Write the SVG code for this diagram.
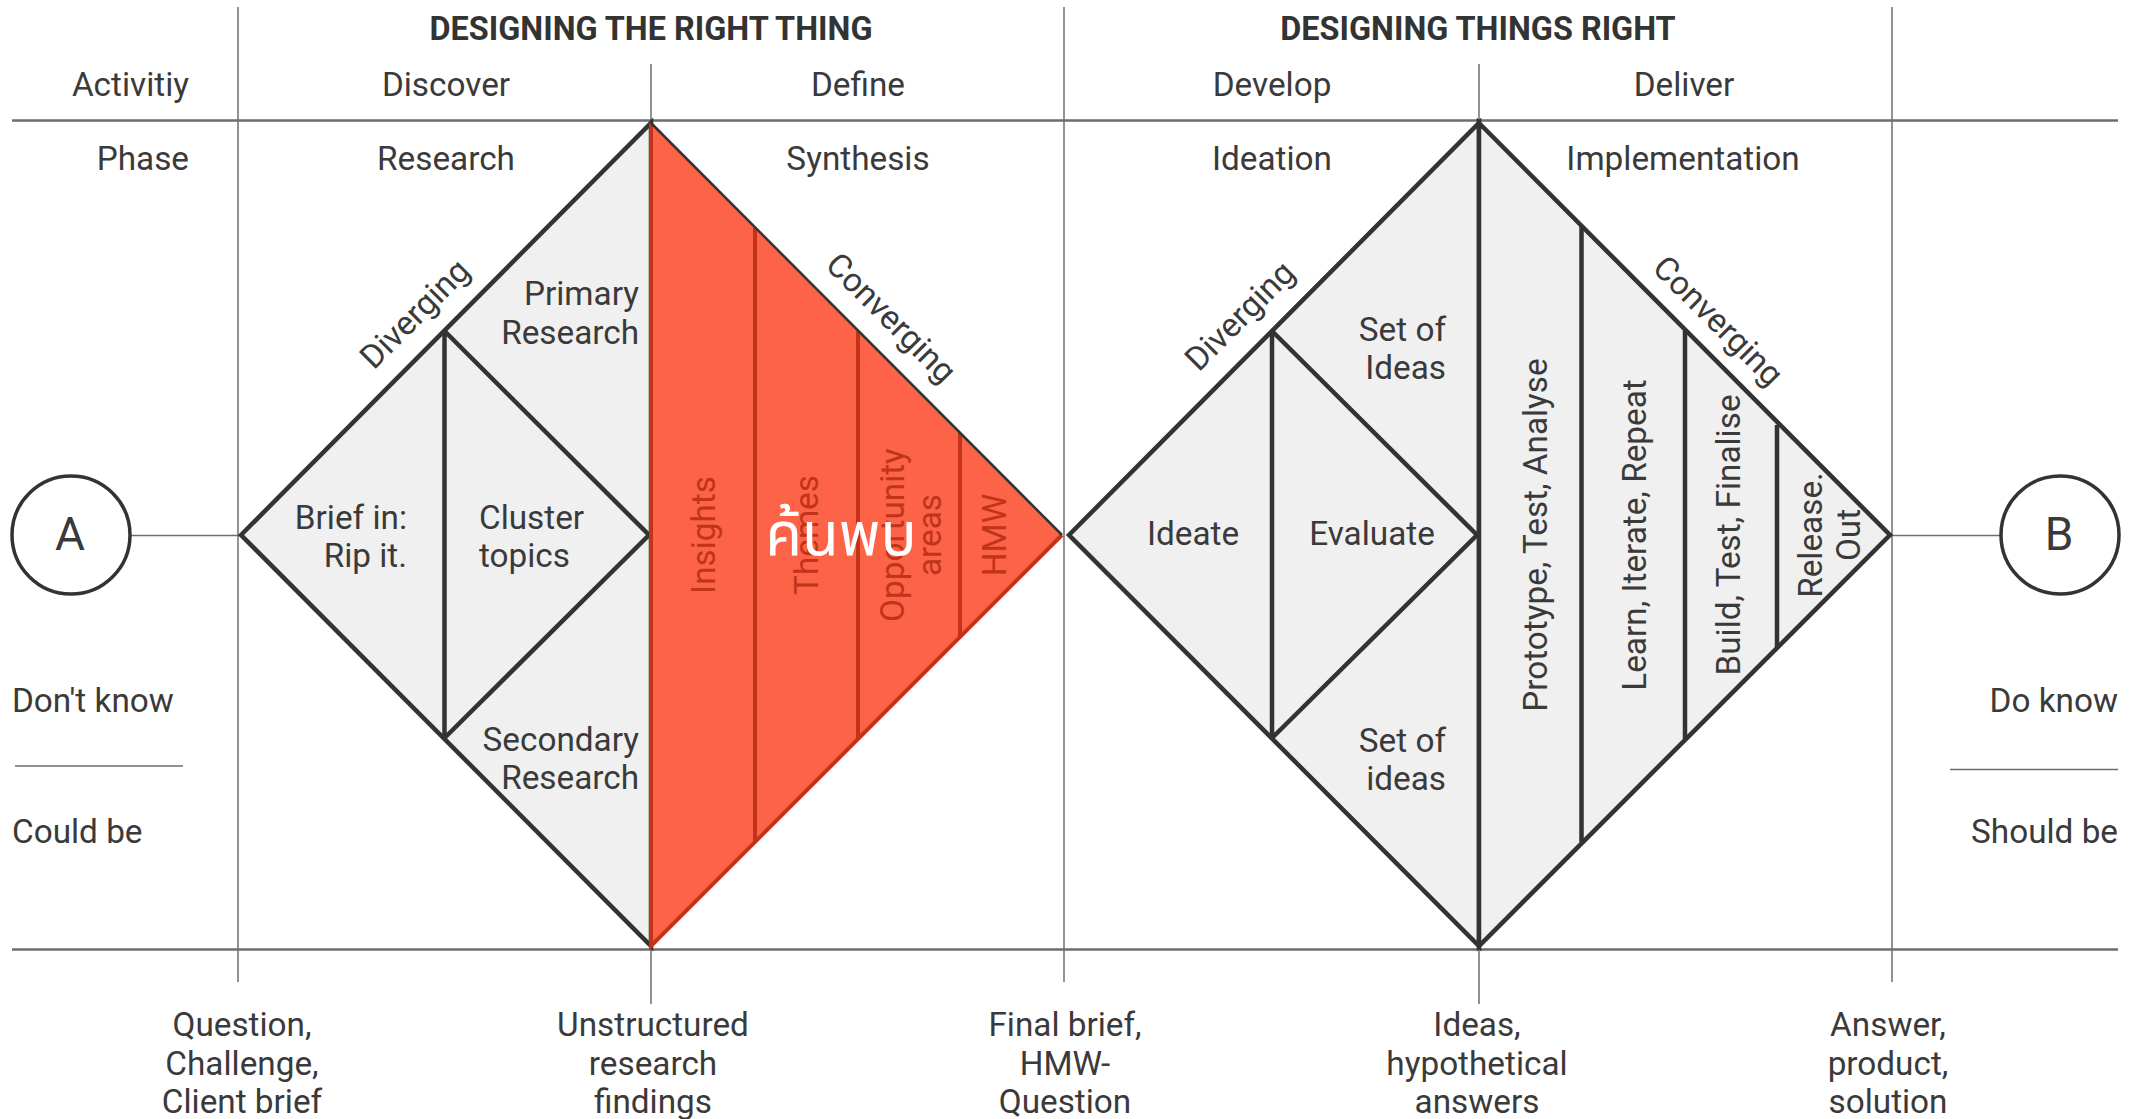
<svg xmlns="http://www.w3.org/2000/svg" width="2138" height="1119" viewBox="0 0 2138 1119">
<style>
text{font-family:Roboto,"Liberation Sans",sans-serif;font-size:33.300px;fill:#3a3a3a}
.m{text-anchor:middle}.r{text-anchor:end}
.h{font-weight:700;font-size:32.400px;text-anchor:middle;fill:#333}
.red{fill:#c0341a;text-anchor:middle}
.g{stroke:#6e6e6e;stroke-width:1.5;fill:none}
.g2{stroke:#6e6e6e;stroke-width:2.5;fill:none}
.d{fill:#f0f0f0;stroke:#333;stroke-width:4.5;stroke-linejoin:miter}
.l{stroke:#333;stroke-width:4.5;fill:none}
.rl{stroke:#c2331a;stroke-width:4;fill:none}
.c{fill:#fff;stroke:#333;stroke-width:3.5}
.th{font-family:"Noto Sans Thai","Noto Sans","Open Sans",sans-serif;font-size:60px;fill:#fff;text-anchor:middle}
</style>
<rect width="2138" height="1119" fill="#fff"/>
<g id="connectors">
<path class="g" d="M238 7V982M651 64V1004M1064 7V982M1479 64V1004M1892 7V982"/>
<path class="g2" d="M12 120.500H2118M12 949.500H2118"/>
<path class="g" d="M131 535.500H240M1892 535.500H2000M15 766H183M1950 769.500H2118"/>
</g>
<g id="diamond-1-left">
<path class="d" d="M241 535L651 123V946Z"/>
<path class="l" d="M444.500 331V738M444.500 331L649 535L444.500 738"/>
</g>
<g id="diamond-1-right">
<path d="M651 123L1062 535L651 946Z" fill="#fd6347"/>
<path class="rl" d="M651 123V946L1062 535M755 228V842M858 331V739M960 433V638"/>
<path d="M651 123L1062 535" stroke="#333" stroke-width="2.500" fill="none"/>
</g>
<g id="diamond-2-left">
<path class="d" d="M1069 535L1479 123V946Z"/>
<path class="l" d="M1272 331V738M1272 331L1477 535L1272 738"/>
</g>
<g id="diamond-2-right">
<path class="d" d="M1479 123L1890 535L1479 946Z"/>
<path class="l" d="M1581.500 226V842M1685 331V739M1777 425V647"/>
</g>
<g id="node-a"><circle class="c" cx="71" cy="535" r="59"/><text class="m" x="70" y="550" style="font-size:46px">A</text></g>
<g id="node-b"><circle class="c" cx="2060" cy="535" r="59"/><text class="m" x="2059" y="550" style="font-size:46px">B</text></g>
<g id="headers">
<text class="h" x="651" y="40">DESIGNING THE RIGHT THING</text>
<text class="h" x="1478" y="40">DESIGNING THINGS RIGHT</text>
<text class="r" x="189" y="96">Activitiy</text>
<text class="m" x="446" y="96">Discover</text>
<text class="m" x="858" y="96">Define</text>
<text class="m" x="1272" y="96">Develop</text>
<text class="m" x="1684" y="96">Deliver</text>
<text class="r" x="189" y="170">Phase</text>
<text class="m" x="446" y="170">Research</text>
<text class="m" x="858" y="170">Synthesis</text>
<text class="m" x="1272" y="170">Ideation</text>
<text class="m" x="1683" y="170">Implementation</text>
</g>
<g id="labels">
<text class="m" transform="translate(415 314) rotate(-45)" y="11">Diverging</text>
<text class="m" transform="translate(891 318) rotate(45)" y="11">Converging</text>
<text class="m" transform="translate(1240 316) rotate(-45)" y="11">Diverging</text>
<text class="m" transform="translate(1718 321) rotate(45)" y="11">Converging</text>
<text class="r" x="639" y="305">Primary</text><text class="r" x="639" y="344">Research</text>
<text class="r" x="407" y="529">Brief in:</text><text class="r" x="407" y="567">Rip it.</text>
<text x="479" y="529">Cluster</text><text x="479" y="567">topics</text>
<text class="r" x="639" y="751">Secondary</text><text class="r" x="639" y="789">Research</text>
<text class="red" transform="translate(715 535) rotate(-90)">Insights</text>
<text class="red" transform="translate(818 535) rotate(-90)">Themes</text>
<text class="red" transform="translate(904 535) rotate(-90)">Opportunity</text>
<text class="red" transform="translate(941 535) rotate(-90)">areas</text>
<text class="red" transform="translate(1006 535) rotate(-90)">HMW</text>
<text class="th" x="841" y="555">ค้นพบ</text>
<text class="m" x="1193" y="545">Ideate</text>
<text class="m" x="1372" y="545">Evaluate</text>
<text class="r" x="1446" y="341">Set of</text><text class="r" x="1446" y="379">Ideas</text>
<text class="r" x="1446" y="752">Set of</text><text class="r" x="1446" y="790">ideas</text>
<text class="m" transform="translate(1547 535) rotate(-90)">Prototype, Test, Analyse</text>
<text class="m" transform="translate(1646 535) rotate(-90)">Learn, Iterate, Repeat</text>
<text class="m" transform="translate(1740 535) rotate(-90)">Build, Test, Finalise</text>
<text class="m" transform="translate(1822 535) rotate(-90)">Release.</text>
<text class="m" transform="translate(1860 535) rotate(-90)">Out</text>
<text x="12" y="712">Don't know</text><text x="12" y="843">Could be</text>
<text class="r" x="2118" y="712">Do know</text><text class="r" x="2118" y="843">Should be</text>
<text class="m" x="242" y="1036">Question,</text><text class="m" x="242" y="1075">Challenge,</text><text class="m" x="242" y="1113">Client brief</text>
<text class="m" x="653" y="1036">Unstructured</text><text class="m" x="653" y="1075">research</text><text class="m" x="653" y="1113">findings</text>
<text class="m" x="1065" y="1036">Final brief,</text><text class="m" x="1065" y="1075">HMW-</text><text class="m" x="1065" y="1113">Question</text>
<text class="m" x="1477" y="1036">Ideas,</text><text class="m" x="1477" y="1075">hypothetical</text><text class="m" x="1477" y="1113">answers</text>
<text class="m" x="1888" y="1036">Answer,</text><text class="m" x="1888" y="1075">product,</text><text class="m" x="1888" y="1113">solution</text>
</g>
</svg>
